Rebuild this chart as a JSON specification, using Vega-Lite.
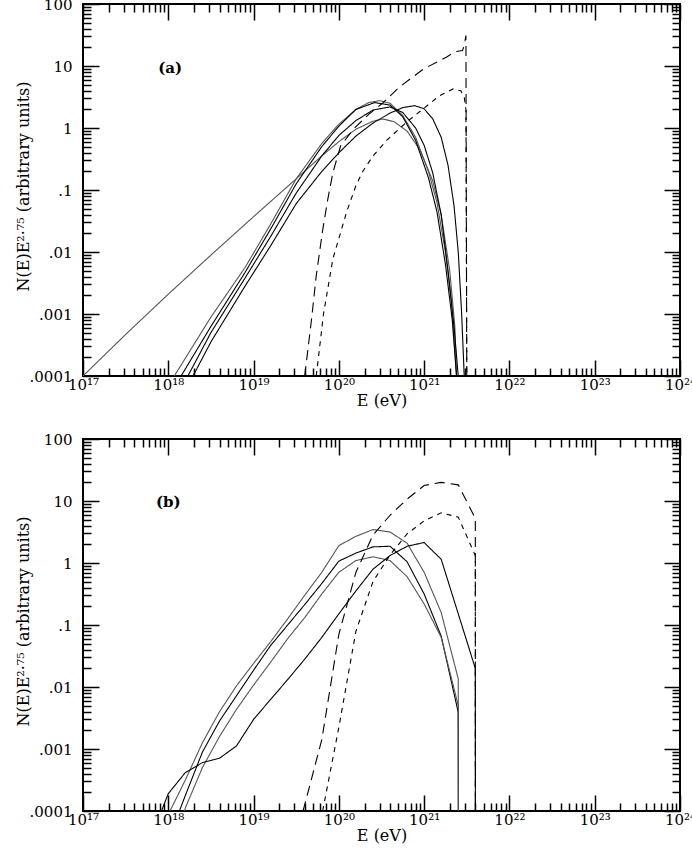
{
  "$schema": "https://vega.github.io/schema/vega-lite/v6.json",
  "description": "N(E)E^2.75 spectra versus energy, panels (a) and (b).",
  "padding": {"left": 14, "top": -4, "right": 5, "bottom": 5},
  "background": "white",
  "spacing": 63,
  "bounds": "flush",
  "config": {
    "view": {"stroke": "black", "strokeWidth": 2},
    "axis": {
      "grid": false,
      "domain": false,
      "tickColor": "black",
      "tickWidth": 1.5,
      "labelFont": "DejaVu Serif",
      "labelFontSize": 15,
      "labelColor": "black",
      "labelFlush": false,
      "labelOverlap": false,
      "titleFont": "DejaVu Serif",
      "titleFontSize": 16,
      "titleFontWeight": "normal",
      "titleColor": "black"
    }
  },
  "datasets": {
    "a": [
      {"s": "w", "E": 1e17, "V": 1e-4},
      {"s": "w", "E": 3.162e17, "V": 4.677e-4},
      {"s": "w", "E": 1e18, "V": 2.089e-3},
      {"s": "w", "E": 3.162e18, "V": 8.913e-3},
      {"s": "w", "E": 1e19, "V": 3.715e-2},
      {"s": "w", "E": 3.162e19, "V": 0.1514},
      {"s": "w", "E": 6.31e19, "V": 0.3548},
      {"s": "w", "E": 1e20, "V": 0.6026},
      {"s": "w", "E": 1.585e20, "V": 0.955},
      {"s": "w", "E": 2.512e20, "V": 1.288},
      {"s": "w", "E": 3.311e20, "V": 1.396},
      {"s": "w", "E": 4.467e20, "V": 1.259},
      {"s": "w", "E": 6.31e20, "V": 0.891},
      {"s": "w", "E": 8.913e20, "V": 0.4467},
      {"s": "w", "E": 1.259e21, "V": 0.1413},
      {"s": "w", "E": 1.585e21, "V": 0.0398},
      {"s": "w", "E": 1.995e21, "V": 0.00501},
      {"s": "w", "E": 2.291e21, "V": 6.31e-4},
      {"s": "w", "E": 2.399e21, "V": 1e-4},

      {"s": "g1", "E": 1.175e18, "V": 1e-4},
      {"s": "g1", "E": 3.162e18, "V": 8.913e-4},
      {"s": "g1", "E": 7.943e18, "V": 5.623e-3},
      {"s": "g1", "E": 1.585e19, "V": 2.818e-2},
      {"s": "g1", "E": 3.162e19, "V": 0.1514},
      {"s": "g1", "E": 6.31e19, "V": 0.5623},
      {"s": "g1", "E": 1e20, "V": 1.148},
      {"s": "g1", "E": 1.585e20, "V": 1.995},
      {"s": "g1", "E": 2.239e20, "V": 2.57},
      {"s": "g1", "E": 3.02e20, "V": 2.754},
      {"s": "g1", "E": 3.981e20, "V": 2.512},
      {"s": "g1", "E": 5.623e20, "V": 1.585},
      {"s": "g1", "E": 7.943e20, "V": 0.7079},
      {"s": "g1", "E": 1.122e21, "V": 0.1995},
      {"s": "g1", "E": 1.413e21, "V": 0.0631},
      {"s": "g1", "E": 1.778e21, "V": 0.01},
      {"s": "g1", "E": 2.089e21, "V": 1.585e-3},
      {"s": "g1", "E": 2.399e21, "V": 1e-4},

      {"s": "k1", "E": 1.413e18, "V": 1e-4},
      {"s": "k1", "E": 3.162e18, "V": 6.31e-4},
      {"s": "k1", "E": 7.943e18, "V": 4.677e-3},
      {"s": "k1", "E": 1.585e19, "V": 2.344e-2},
      {"s": "k1", "E": 3.162e19, "V": 0.1259},
      {"s": "k1", "E": 6.31e19, "V": 0.5012},
      {"s": "k1", "E": 1e20, "V": 1.072},
      {"s": "k1", "E": 1.585e20, "V": 1.995},
      {"s": "k1", "E": 2.63e20, "V": 2.57},
      {"s": "k1", "E": 3.981e20, "V": 2.344},
      {"s": "k1", "E": 5.623e20, "V": 1.514},
      {"s": "k1", "E": 7.943e20, "V": 0.631},
      {"s": "k1", "E": 1.122e21, "V": 0.1585},
      {"s": "k1", "E": 1.413e21, "V": 0.0447},
      {"s": "k1", "E": 1.778e21, "V": 6.31e-3},
      {"s": "k1", "E": 2.138e21, "V": 7.943e-4},
      {"s": "k1", "E": 2.399e21, "V": 1e-4},

      {"s": "k2", "E": 1.698e18, "V": 1e-4},
      {"s": "k2", "E": 3.162e18, "V": 5.012e-4},
      {"s": "k2", "E": 7.943e18, "V": 3.802e-3},
      {"s": "k2", "E": 1.585e19, "V": 1.778e-2},
      {"s": "k2", "E": 3.162e19, "V": 8.913e-2},
      {"s": "k2", "E": 6.31e19, "V": 0.3548},
      {"s": "k2", "E": 1e20, "V": 0.7586},
      {"s": "k2", "E": 1.585e20, "V": 1.318},
      {"s": "k2", "E": 2.512e20, "V": 1.95},
      {"s": "k2", "E": 3.981e20, "V": 2.188},
      {"s": "k2", "E": 5.623e20, "V": 1.778},
      {"s": "k2", "E": 7.943e20, "V": 1.0},
      {"s": "k2", "E": 1e21, "V": 0.5248},
      {"s": "k2", "E": 1.259e21, "V": 0.1905},
      {"s": "k2", "E": 1.585e21, "V": 0.0398},
      {"s": "k2", "E": 1.905e21, "V": 5.012e-3},
      {"s": "k2", "E": 2.239e21, "V": 6.31e-4},
      {"s": "k2", "E": 2.512e21, "V": 1e-4},

      {"s": "k3", "E": 1.95e18, "V": 1e-4},
      {"s": "k3", "E": 3.162e18, "V": 3.548e-4},
      {"s": "k3", "E": 7.943e18, "V": 2.818e-3},
      {"s": "k3", "E": 1.585e19, "V": 1.259e-2},
      {"s": "k3", "E": 3.162e19, "V": 6.026e-2},
      {"s": "k3", "E": 6.31e19, "V": 0.1995},
      {"s": "k3", "E": 1e20, "V": 0.3981},
      {"s": "k3", "E": 1.585e20, "V": 0.7413},
      {"s": "k3", "E": 2.512e20, "V": 1.202},
      {"s": "k3", "E": 3.981e20, "V": 1.738},
      {"s": "k3", "E": 5.623e20, "V": 2.138},
      {"s": "k3", "E": 7.762e20, "V": 2.291},
      {"s": "k3", "E": 1e21, "V": 2.042},
      {"s": "k3", "E": 1.259e21, "V": 1.413},
      {"s": "k3", "E": 1.585e21, "V": 0.7079},
      {"s": "k3", "E": 1.905e21, "V": 0.2512},
      {"s": "k3", "E": 2.239e21, "V": 0.0562},
      {"s": "k3", "E": 2.512e21, "V": 0.01},
      {"s": "k3", "E": 2.754e21, "V": 1e-3},
      {"s": "k3", "E": 2.951e21, "V": 1e-4},

      {"s": "ld", "E": 3.981e19, "V": 1e-4},
      {"s": "ld", "E": 4.786e19, "V": 8.318e-4},
      {"s": "ld", "E": 5.433e19, "V": 4.169e-3},
      {"s": "ld", "E": 6.457e19, "V": 2.239e-2},
      {"s": "ld", "E": 7.413e19, "V": 7.079e-2},
      {"s": "ld", "E": 8.511e19, "V": 0.1905},
      {"s": "ld", "E": 1.047e20, "V": 0.5129},
      {"s": "ld", "E": 1.479e20, "V": 0.955},
      {"s": "ld", "E": 2.239e20, "V": 1.66},
      {"s": "ld", "E": 3.311e20, "V": 2.57},
      {"s": "ld", "E": 5.129e20, "V": 4.571},
      {"s": "ld", "E": 9.772e20, "V": 8.913},
      {"s": "ld", "E": 1.82e21, "V": 13.8},
      {"s": "ld", "E": 2.291e21, "V": 16.98},
      {"s": "ld", "E": 2.818e21, "V": 17.78},
      {"s": "ld", "E": 2.951e21, "V": 21.38},
      {"s": "ld", "E": 3.09e21, "V": 30.9},
      {"s": "ld", "E": 3.162e21, "V": 1e-4},

      {"s": "sd", "E": 5.433e19, "V": 1e-4},
      {"s": "sd", "E": 6.607e19, "V": 1e-3},
      {"s": "sd", "E": 8.511e19, "V": 7.762e-3},
      {"s": "sd", "E": 1.23e20, "V": 4.365e-2},
      {"s": "sd", "E": 1.585e20, "V": 0.1175},
      {"s": "sd", "E": 1.905e20, "V": 0.1995},
      {"s": "sd", "E": 2.512e20, "V": 0.3548},
      {"s": "sd", "E": 3.631e20, "V": 0.631},
      {"s": "sd", "E": 6.166e20, "V": 1.23},
      {"s": "sd", "E": 9.772e20, "V": 2.042},
      {"s": "sd", "E": 1.514e21, "V": 3.311},
      {"s": "sd", "E": 2.188e21, "V": 4.266},
      {"s": "sd", "E": 2.692e21, "V": 3.981},
      {"s": "sd", "E": 2.951e21, "V": 3.162},
      {"s": "sd", "E": 3.09e21, "V": 1.995},
      {"s": "sd", "E": 3.162e21, "V": 1e-4}
    ],
    "b": [
      {"s": "b1", "E": 1.047e18, "V": 1e-4},
      {"s": "b1", "E": 1.585e18, "V": 3.162e-4},
      {"s": "b1", "E": 2.512e18, "V": 1.259e-3},
      {"s": "b1", "E": 3.981e18, "V": 3.981e-3},
      {"s": "b1", "E": 6.31e18, "V": 1.047e-2},
      {"s": "b1", "E": 1e19, "V": 2.399e-2},
      {"s": "b1", "E": 1.585e19, "V": 5.37e-2},
      {"s": "b1", "E": 2.512e19, "V": 0.1259},
      {"s": "b1", "E": 3.981e19, "V": 0.302},
      {"s": "b1", "E": 6.31e19, "V": 0.7079},
      {"s": "b1", "E": 1e20, "V": 1.905},
      {"s": "b1", "E": 1.585e20, "V": 2.692},
      {"s": "b1", "E": 2.512e20, "V": 3.467},
      {"s": "b1", "E": 3.981e20, "V": 3.162},
      {"s": "b1", "E": 6.31e20, "V": 2.089},
      {"s": "b1", "E": 1e21, "V": 0.7079},
      {"s": "b1", "E": 1.585e21, "V": 0.1585},
      {"s": "b1", "E": 2.512e21, "V": 0.0135},
      {"s": "b1", "E": 2.52e21, "V": 1e-4},

      {"s": "b2", "E": 1.349e18, "V": 1e-4},
      {"s": "b2", "E": 1.585e18, "V": 1.778e-4},
      {"s": "b2", "E": 2.512e18, "V": 8.913e-4},
      {"s": "b2", "E": 3.981e18, "V": 2.818e-3},
      {"s": "b2", "E": 6.31e18, "V": 7.244e-3},
      {"s": "b2", "E": 1e19, "V": 1.862e-2},
      {"s": "b2", "E": 1.585e19, "V": 4.677e-2},
      {"s": "b2", "E": 2.512e19, "V": 0.1},
      {"s": "b2", "E": 3.981e19, "V": 0.2138},
      {"s": "b2", "E": 6.31e19, "V": 0.4677},
      {"s": "b2", "E": 1e20, "V": 1.072},
      {"s": "b2", "E": 1.585e20, "V": 1.445},
      {"s": "b2", "E": 2.512e20, "V": 1.82},
      {"s": "b2", "E": 3.981e20, "V": 1.862},
      {"s": "b2", "E": 6.31e20, "V": 1.047},
      {"s": "b2", "E": 1e21, "V": 0.3162},
      {"s": "b2", "E": 1.585e21, "V": 0.0661},
      {"s": "b2", "E": 2.512e21, "V": 3.89e-3},
      {"s": "b2", "E": 2.52e21, "V": 1e-4},

      {"s": "b3", "E": 1.549e18, "V": 1e-4},
      {"s": "b3", "E": 1.585e18, "V": 1.122e-4},
      {"s": "b3", "E": 2.512e18, "V": 5.012e-4},
      {"s": "b3", "E": 3.981e18, "V": 1.585e-3},
      {"s": "b3", "E": 6.31e18, "V": 4.365e-3},
      {"s": "b3", "E": 1e19, "V": 1.072e-2},
      {"s": "b3", "E": 1.585e19, "V": 2.512e-2},
      {"s": "b3", "E": 2.512e19, "V": 6.026e-2},
      {"s": "b3", "E": 3.981e19, "V": 0.1318},
      {"s": "b3", "E": 6.31e19, "V": 0.3162},
      {"s": "b3", "E": 1e20, "V": 0.7079},
      {"s": "b3", "E": 1.585e20, "V": 1.096},
      {"s": "b3", "E": 2.512e20, "V": 1.259},
      {"s": "b3", "E": 3.981e20, "V": 1.096},
      {"s": "b3", "E": 6.31e20, "V": 0.6026},
      {"s": "b3", "E": 1e21, "V": 0.2188},
      {"s": "b3", "E": 1.585e21, "V": 0.0631},
      {"s": "b3", "E": 2.512e21, "V": 5.012e-3},
      {"s": "b3", "E": 2.52e21, "V": 1e-4},

      {"s": "b4", "E": 8.318e17, "V": 1e-4},
      {"s": "b4", "E": 1e18, "V": 1.905e-4},
      {"s": "b4", "E": 1.585e18, "V": 4.169e-4},
      {"s": "b4", "E": 2.512e18, "V": 6.026e-4},
      {"s": "b4", "E": 3.981e18, "V": 7.079e-4},
      {"s": "b4", "E": 6.31e18, "V": 1.122e-3},
      {"s": "b4", "E": 1e19, "V": 3.0e-3},
      {"s": "b4", "E": 1.585e19, "V": 6.31e-3},
      {"s": "b4", "E": 2.512e19, "V": 1.318e-2},
      {"s": "b4", "E": 3.981e19, "V": 2.818e-2},
      {"s": "b4", "E": 6.31e19, "V": 0.0631},
      {"s": "b4", "E": 1e20, "V": 0.1514},
      {"s": "b4", "E": 1.585e20, "V": 0.3548},
      {"s": "b4", "E": 2.512e20, "V": 0.7943},
      {"s": "b4", "E": 3.981e20, "V": 1.318},
      {"s": "b4", "E": 6.31e20, "V": 1.862},
      {"s": "b4", "E": 1e21, "V": 2.138},
      {"s": "b4", "E": 1.585e21, "V": 1.148},
      {"s": "b4", "E": 2.512e21, "V": 0.1514},
      {"s": "b4", "E": 3.981e21, "V": 0.01995},
      {"s": "b4", "E": 3.99e21, "V": 1e-4},

      {"s": "ld", "E": 3.802e19, "V": 1e-4},
      {"s": "ld", "E": 6.31e19, "V": 1.413e-3},
      {"s": "ld", "E": 1e20, "V": 0.0708},
      {"s": "ld", "E": 1.585e20, "V": 0.7079},
      {"s": "ld", "E": 2.512e20, "V": 2.818},
      {"s": "ld", "E": 3.981e20, "V": 5.888},
      {"s": "ld", "E": 6.31e20, "V": 10.72},
      {"s": "ld", "E": 1e21, "V": 17.78},
      {"s": "ld", "E": 1.585e21, "V": 19.95},
      {"s": "ld", "E": 2.512e21, "V": 18.2},
      {"s": "ld", "E": 3.981e21, "V": 5.248},
      {"s": "ld", "E": 3.99e21, "V": 1e-4},

      {"s": "sd", "E": 6.457e19, "V": 1e-4},
      {"s": "sd", "E": 1e20, "V": 2.239e-3},
      {"s": "sd", "E": 1.585e20, "V": 0.0794},
      {"s": "sd", "E": 2.512e20, "V": 0.5012},
      {"s": "sd", "E": 3.981e20, "V": 1.349},
      {"s": "sd", "E": 6.31e20, "V": 2.951},
      {"s": "sd", "E": 1e21, "V": 4.786},
      {"s": "sd", "E": 1.585e21, "V": 6.457},
      {"s": "sd", "E": 2.512e21, "V": 5.495},
      {"s": "sd", "E": 3.981e21, "V": 1.318},
      {"s": "sd", "E": 3.99e21, "V": 1e-4}
    ]
  },
  "vconcat": [
    {
      "width": 597,
      "height": 372,
      "data": {"name": "a"},
      "layer": [
        {
          "mark": {"type": "line", "strokeWidth": 1.1, "clip": true},
          "encoding": {
            "x": {"field": "E", "type": "quantitative",
              "scale": {"type": "log", "domain": [1e17, 1e24], "nice": false},
              "axis": {"orient": "bottom", "values": [1e17, 1e18, 1e19, 1e20, 1e21, 1e22, 1e23, 1e24], "tickSize": -16, "labelPadding": 17,
                "labelExpr": "'10' + ['¹⁷','¹⁸','¹⁹','²⁰','²¹','²²','²³','²⁴'][round(log(datum.value)/LN10) - 17]",
                "title": "E (eV)", "titlePadding": 0}},
            "y": {"field": "V", "type": "quantitative",
              "scale": {"type": "log", "domain": [1e-4, 100], "nice": false},
              "axis": {"orient": "left", "values": [1e-4, 1e-3, 1e-2, 0.1, 1, 10, 100], "tickSize": -16, "labelPadding": 27,
                "labelExpr": "['.0001','.001','.01','.1','1','10','100'][round(log(datum.value)/LN10) + 4]",
                "title": "N(E)E²·⁷⁵ (arbitrary units)", "titleX": -52, "titleY": 182}},
            "color": {"field": "s", "type": "nominal", "legend": null,
              "scale": {"domain": ["w", "g1", "k1", "k2", "k3", "b1", "b2", "b3", "b4", "ld", "sd"],
                "range": ["#555555", "#555555", "#000000", "#000000", "#000000", "#555555", "#000000", "#555555", "#000000", "#000000", "#000000"]}},
            "strokeDash": {"field": "s", "type": "nominal", "legend": null,
              "scale": {"domain": ["w", "g1", "k1", "k2", "k3", "b1", "b2", "b3", "b4", "ld", "sd"],
                "range": [[1, 0], [1, 0], [1, 0], [1, 0], [1, 0], [1, 0], [1, 0], [1, 0], [1, 0], [10, 6], [5, 5]]}}
          }
        },
        {
          "mark": {"type": "point", "opacity": 0},
          "encoding": {
            "x": {"field": "E", "type": "quantitative",
              "scale": {"type": "log", "domain": [1e17, 1e24], "nice": false},
              "axis": {"orient": "bottom", "labels": false, "title": null, "tickSize": -8,
                "values": [2e17, 3e17, 4e17, 5e17, 6e17, 7e17, 8e17, 9e17, 2e18, 3e18, 4e18, 5e18, 6e18, 7e18, 8e18, 9e18, 2e19, 3e19, 4e19, 5e19, 6e19, 7e19, 8e19, 9e19, 2e20, 3e20, 4e20, 5e20, 6e20, 7e20, 8e20, 9e20, 2e21, 3e21, 4e21, 5e21, 6e21, 7e21, 8e21, 9e21, 2e22, 3e22, 4e22, 5e22, 6e22, 7e22, 8e22, 9e22, 2e23, 3e23, 4e23, 5e23, 6e23, 7e23, 8e23, 9e23]}},
            "y": {"field": "V", "type": "quantitative",
              "scale": {"type": "log", "domain": [1e-4, 100], "nice": false},
              "axis": {"orient": "left", "labels": false, "title": null, "tickSize": -8,
                "values": [2e-4, 3e-4, 4e-4, 5e-4, 6e-4, 7e-4, 8e-4, 9e-4, 2e-3, 3e-3, 4e-3, 5e-3, 6e-3, 7e-3, 8e-3, 9e-3, 0.02, 0.03, 0.04, 0.05, 0.06, 0.07, 0.08, 0.09, 0.2, 0.3, 0.4, 0.5, 0.6, 0.7, 0.8, 0.9, 2, 3, 4, 5, 6, 7, 8, 9, 20, 30, 40, 50, 60, 70, 80, 90]}}
          }
        },
        {
          "mark": {"type": "point", "opacity": 0},
          "encoding": {
            "x": {"field": "E", "type": "quantitative",
              "scale": {"type": "log", "domain": [1e17, 1e24], "nice": false},
              "axis": {"orient": "top", "labels": false, "title": null, "tickSize": -16,
                "values": [1e17, 1e18, 1e19, 1e20, 1e21, 1e22, 1e23, 1e24]}},
            "y": {"field": "V", "type": "quantitative",
              "scale": {"type": "log", "domain": [1e-4, 100], "nice": false},
              "axis": {"orient": "right", "labels": false, "title": null, "tickSize": -16,
                "values": [1e-4, 1e-3, 1e-2, 0.1, 1, 10, 100]}}
          }
        },
        {
          "mark": {"type": "point", "opacity": 0},
          "encoding": {
            "x": {"field": "E", "type": "quantitative",
              "scale": {"type": "log", "domain": [1e17, 1e24], "nice": false},
              "axis": {"orient": "top", "labels": false, "title": null, "tickSize": -8,
                "values": [2e17, 3e17, 4e17, 5e17, 6e17, 7e17, 8e17, 9e17, 2e18, 3e18, 4e18, 5e18, 6e18, 7e18, 8e18, 9e18, 2e19, 3e19, 4e19, 5e19, 6e19, 7e19, 8e19, 9e19, 2e20, 3e20, 4e20, 5e20, 6e20, 7e20, 8e20, 9e20, 2e21, 3e21, 4e21, 5e21, 6e21, 7e21, 8e21, 9e21, 2e22, 3e22, 4e22, 5e22, 6e22, 7e22, 8e22, 9e22, 2e23, 3e23, 4e23, 5e23, 6e23, 7e23, 8e23, 9e23]}},
            "y": {"field": "V", "type": "quantitative",
              "scale": {"type": "log", "domain": [1e-4, 100], "nice": false},
              "axis": {"orient": "right", "labels": false, "title": null, "tickSize": -8,
                "values": [2e-4, 3e-4, 4e-4, 5e-4, 6e-4, 7e-4, 8e-4, 9e-4, 2e-3, 3e-3, 4e-3, 5e-3, 6e-3, 7e-3, 8e-3, 9e-3, 0.02, 0.03, 0.04, 0.05, 0.06, 0.07, 0.08, 0.09, 0.2, 0.3, 0.4, 0.5, 0.6, 0.7, 0.8, 0.9, 2, 3, 4, 5, 6, 7, 8, 9, 20, 30, 40, 50, 60, 70, 80, 90]}}
          }
        },
        {
          "data": {"values": [{"E": 1.05e18, "V": 9.3, "t": "(a)"}]},
          "mark": {"type": "text", "font": "DejaVu Serif", "fontSize": 15, "fontWeight": "bold", "color": "black", "align": "center", "baseline": "middle"},
          "encoding": {
            "x": {"field": "E", "type": "quantitative", "scale": {"type": "log", "domain": [1e17, 1e24], "nice": false}, "axis": null},
            "y": {"field": "V", "type": "quantitative", "scale": {"type": "log", "domain": [1e-4, 100], "nice": false}, "axis": null},
            "text": {"field": "t"}
          }
        }
      ],
      "resolve": {"axis": {"x": "independent", "y": "independent"}}
    },
    {
      "width": 597,
      "height": 372,
      "data": {"name": "b"},
      "layer": [
        {
          "mark": {"type": "line", "strokeWidth": 1.1, "clip": true},
          "encoding": {
            "x": {"field": "E", "type": "quantitative",
              "scale": {"type": "log", "domain": [1e17, 1e24], "nice": false},
              "axis": {"orient": "bottom", "values": [1e17, 1e18, 1e19, 1e20, 1e21, 1e22, 1e23, 1e24], "tickSize": -16, "labelPadding": 17,
                "labelExpr": "'10' + ['¹⁷','¹⁸','¹⁹','²⁰','²¹','²²','²³','²⁴'][round(log(datum.value)/LN10) - 17]",
                "title": "E (eV)", "titlePadding": 0}},
            "y": {"field": "V", "type": "quantitative",
              "scale": {"type": "log", "domain": [1e-4, 100], "nice": false},
              "axis": {"orient": "left", "values": [1e-4, 1e-3, 1e-2, 0.1, 1, 10, 100], "tickSize": -16, "labelPadding": 27,
                "labelExpr": "['.0001','.001','.01','.1','1','10','100'][round(log(datum.value)/LN10) + 4]",
                "title": "N(E)E²·⁷⁵ (arbitrary units)", "titleX": -52, "titleY": 182}},
            "color": {"field": "s", "type": "nominal", "legend": null,
              "scale": {"domain": ["w", "g1", "k1", "k2", "k3", "b1", "b2", "b3", "b4", "ld", "sd"],
                "range": ["#555555", "#555555", "#000000", "#000000", "#000000", "#555555", "#000000", "#555555", "#000000", "#000000", "#000000"]}},
            "strokeDash": {"field": "s", "type": "nominal", "legend": null,
              "scale": {"domain": ["w", "g1", "k1", "k2", "k3", "b1", "b2", "b3", "b4", "ld", "sd"],
                "range": [[1, 0], [1, 0], [1, 0], [1, 0], [1, 0], [1, 0], [1, 0], [1, 0], [1, 0], [10, 6], [5, 5]]}}
          }
        },
        {
          "mark": {"type": "point", "opacity": 0},
          "encoding": {
            "x": {"field": "E", "type": "quantitative",
              "scale": {"type": "log", "domain": [1e17, 1e24], "nice": false},
              "axis": {"orient": "bottom", "labels": false, "title": null, "tickSize": -8,
                "values": [2e17, 3e17, 4e17, 5e17, 6e17, 7e17, 8e17, 9e17, 2e18, 3e18, 4e18, 5e18, 6e18, 7e18, 8e18, 9e18, 2e19, 3e19, 4e19, 5e19, 6e19, 7e19, 8e19, 9e19, 2e20, 3e20, 4e20, 5e20, 6e20, 7e20, 8e20, 9e20, 2e21, 3e21, 4e21, 5e21, 6e21, 7e21, 8e21, 9e21, 2e22, 3e22, 4e22, 5e22, 6e22, 7e22, 8e22, 9e22, 2e23, 3e23, 4e23, 5e23, 6e23, 7e23, 8e23, 9e23]}},
            "y": {"field": "V", "type": "quantitative",
              "scale": {"type": "log", "domain": [1e-4, 100], "nice": false},
              "axis": {"orient": "left", "labels": false, "title": null, "tickSize": -8,
                "values": [2e-4, 3e-4, 4e-4, 5e-4, 6e-4, 7e-4, 8e-4, 9e-4, 2e-3, 3e-3, 4e-3, 5e-3, 6e-3, 7e-3, 8e-3, 9e-3, 0.02, 0.03, 0.04, 0.05, 0.06, 0.07, 0.08, 0.09, 0.2, 0.3, 0.4, 0.5, 0.6, 0.7, 0.8, 0.9, 2, 3, 4, 5, 6, 7, 8, 9, 20, 30, 40, 50, 60, 70, 80, 90]}}
          }
        },
        {
          "mark": {"type": "point", "opacity": 0},
          "encoding": {
            "x": {"field": "E", "type": "quantitative",
              "scale": {"type": "log", "domain": [1e17, 1e24], "nice": false},
              "axis": {"orient": "top", "labels": false, "title": null, "tickSize": -16,
                "values": [1e17, 1e18, 1e19, 1e20, 1e21, 1e22, 1e23, 1e24]}},
            "y": {"field": "V", "type": "quantitative",
              "scale": {"type": "log", "domain": [1e-4, 100], "nice": false},
              "axis": {"orient": "right", "labels": false, "title": null, "tickSize": -16,
                "values": [1e-4, 1e-3, 1e-2, 0.1, 1, 10, 100]}}
          }
        },
        {
          "mark": {"type": "point", "opacity": 0},
          "encoding": {
            "x": {"field": "E", "type": "quantitative",
              "scale": {"type": "log", "domain": [1e17, 1e24], "nice": false},
              "axis": {"orient": "top", "labels": false, "title": null, "tickSize": -8,
                "values": [2e17, 3e17, 4e17, 5e17, 6e17, 7e17, 8e17, 9e17, 2e18, 3e18, 4e18, 5e18, 6e18, 7e18, 8e18, 9e18, 2e19, 3e19, 4e19, 5e19, 6e19, 7e19, 8e19, 9e19, 2e20, 3e20, 4e20, 5e20, 6e20, 7e20, 8e20, 9e20, 2e21, 3e21, 4e21, 5e21, 6e21, 7e21, 8e21, 9e21, 2e22, 3e22, 4e22, 5e22, 6e22, 7e22, 8e22, 9e22, 2e23, 3e23, 4e23, 5e23, 6e23, 7e23, 8e23, 9e23]}},
            "y": {"field": "V", "type": "quantitative",
              "scale": {"type": "log", "domain": [1e-4, 100], "nice": false},
              "axis": {"orient": "right", "labels": false, "title": null, "tickSize": -8,
                "values": [2e-4, 3e-4, 4e-4, 5e-4, 6e-4, 7e-4, 8e-4, 9e-4, 2e-3, 3e-3, 4e-3, 5e-3, 6e-3, 7e-3, 8e-3, 9e-3, 0.02, 0.03, 0.04, 0.05, 0.06, 0.07, 0.08, 0.09, 0.2, 0.3, 0.4, 0.5, 0.6, 0.7, 0.8, 0.9, 2, 3, 4, 5, 6, 7, 8, 9, 20, 30, 40, 50, 60, 70, 80, 90]}}
          }
        },
        {
          "data": {"values": [{"E": 1.0e18, "V": 9.8, "t": "(b)"}]},
          "mark": {"type": "text", "font": "DejaVu Serif", "fontSize": 15, "fontWeight": "bold", "color": "black", "align": "center", "baseline": "middle"},
          "encoding": {
            "x": {"field": "E", "type": "quantitative", "scale": {"type": "log", "domain": [1e17, 1e24], "nice": false}, "axis": null},
            "y": {"field": "V", "type": "quantitative", "scale": {"type": "log", "domain": [1e-4, 100], "nice": false}, "axis": null},
            "text": {"field": "t"}
          }
        }
      ],
      "resolve": {"axis": {"x": "independent", "y": "independent"}}
    }
  ]
}
